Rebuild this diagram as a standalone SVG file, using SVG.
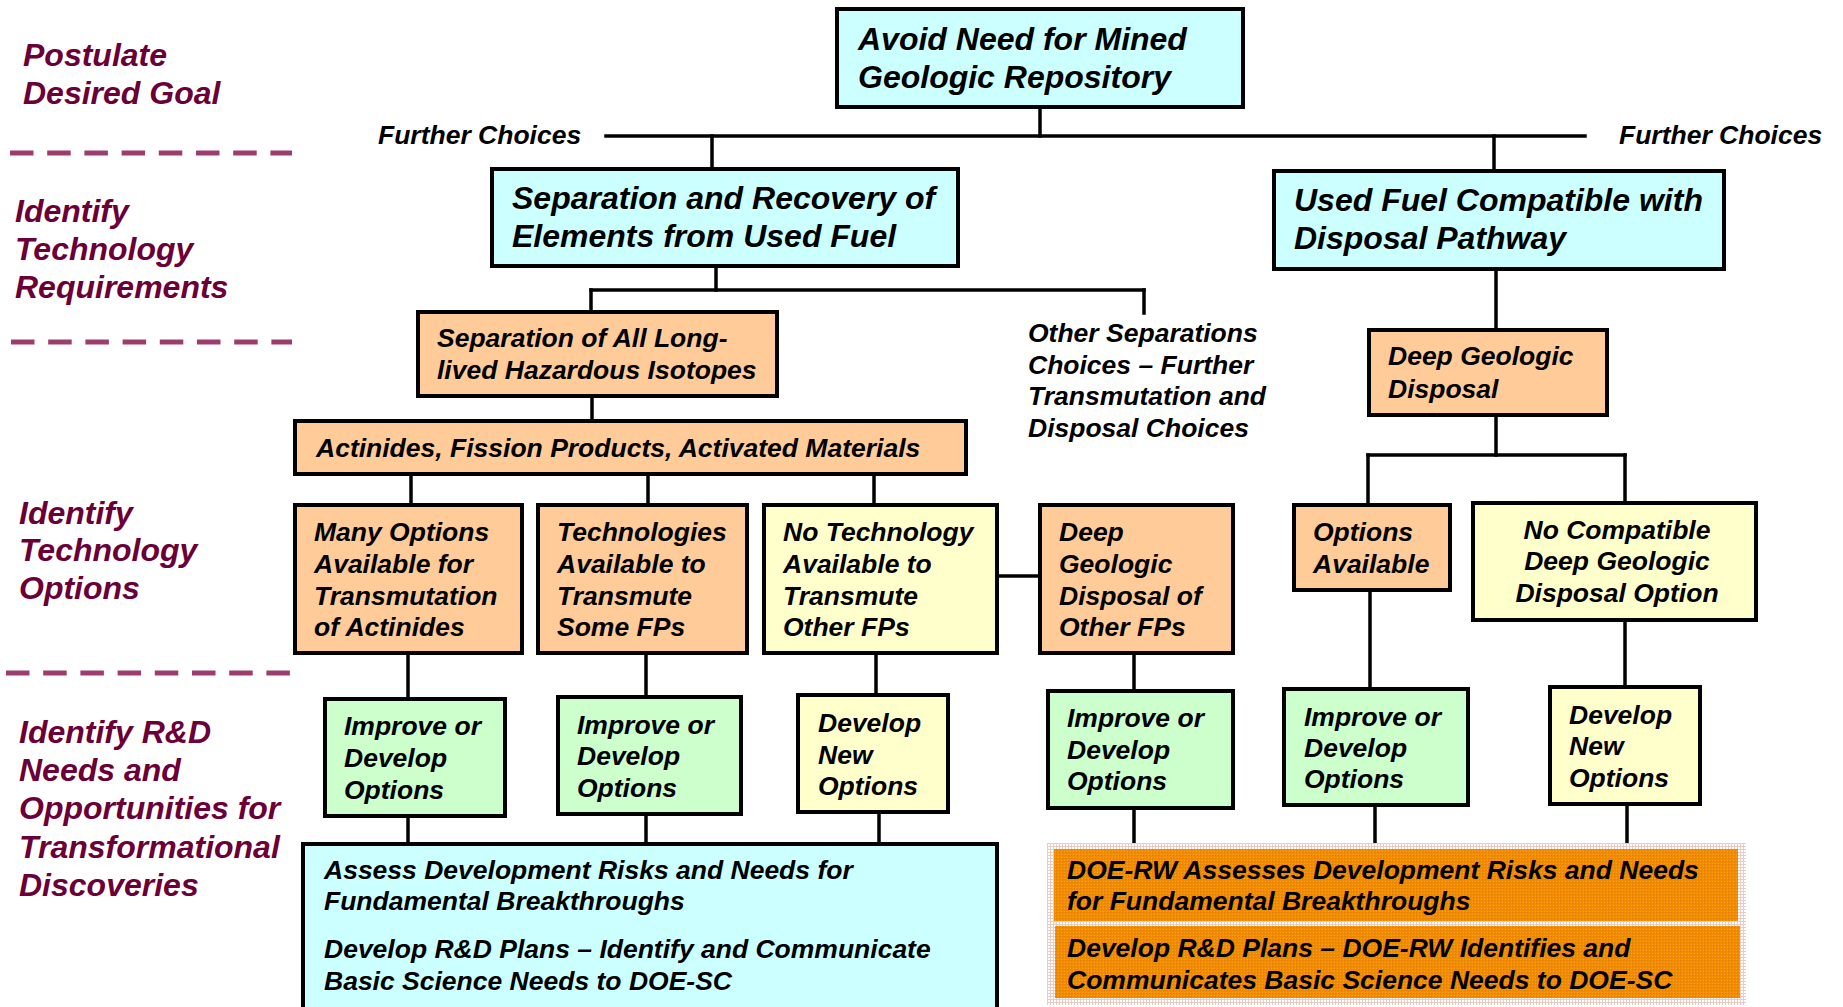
<svg xmlns="http://www.w3.org/2000/svg" width="1843" height="1007" viewBox="0 0 1843 1007">
  <style>
    text { font-family: "Liberation Sans", Arial, sans-serif; font-weight: bold; font-style: italic; fill: #000; transform: translateY(1.5px); }
    .lbl { font-size: 32px; fill: #6B0038; }
    .big { font-size: 32px; }
    .sm { font-size: 26.5px; }
    .box { stroke: #000; stroke-width: 4; }
    .cyan { fill: #CCFFFF; }
    .peach { fill: #FFCC99; }
    .yel { fill: #FFFFCC; }
    .grn { fill: #CCFFCC; }
    .conn line { stroke: #000; stroke-width: 3.5; stroke-linecap: square; }
    .dash { stroke: #9E3C6E; stroke-width: 5; stroke-dasharray: 23.5 13.7; }
  </style>
  <defs>
    <pattern id="orangeWeave" width="3" height="3" patternUnits="userSpaceOnUse">
      <rect width="3" height="3" fill="#F18B00"/>
      <rect width="1" height="1" fill="#E27E06"/>
      <rect x="2" y="2" width="1" height="1" fill="#F7A030"/>
    </pattern>
    <pattern id="paleWeave" width="3" height="3" patternUnits="userSpaceOnUse">
      <rect width="3" height="3" fill="#FFFFFF"/>
      <rect width="3" height="1" fill="#E9CCC4"/>
      <rect width="1" height="3" fill="#E9CCC4"/>
    </pattern>
  </defs>

  <rect width="1843" height="1007" fill="#FFFFFF"/>

  <!-- stage labels down the left margin -->
  <g id="stage-labels">
    <text class="lbl" x="23" y="64">Postulate</text>
    <text class="lbl" x="23" y="102">Desired Goal</text>
    <text class="lbl" x="15" y="220">Identify</text>
    <text class="lbl" x="15" y="258">Technology</text>
    <text class="lbl" x="15" y="296">Requirements</text>
    <text class="lbl" x="19" y="522">Identify</text>
    <text class="lbl" x="19" y="559">Technology</text>
    <text class="lbl" x="19" y="597">Options</text>
    <text class="lbl" x="19" y="741">Identify R&amp;D</text>
    <text class="lbl" x="19" y="779">Needs and</text>
    <text class="lbl" x="19" y="817">Opportunities for</text>
    <text class="lbl" x="19" y="856">Transformational</text>
    <text class="lbl" x="19" y="894">Discoveries</text>
    <line class="dash" x1="10" y1="153" x2="292" y2="153"/>
    <line class="dash" x1="11" y1="342" x2="292" y2="342"/>
    <line class="dash" x1="6" y1="673" x2="290" y2="673"/>
  </g>

  <!-- connectors -->
  <g id="connectors" class="conn">
    <line x1="1040" y1="109" x2="1040" y2="136"/>
    <line x1="606" y1="136" x2="1585" y2="136"/>
    <line x1="712" y1="136" x2="712" y2="167"/>
    <line x1="1494" y1="136" x2="1494" y2="169"/>
    <line x1="716" y1="268" x2="716" y2="290"/>
    <line x1="591" y1="290" x2="1144" y2="290"/>
    <line x1="591" y1="290" x2="591" y2="310"/>
    <line x1="1144" y1="290" x2="1144" y2="313"/>
    <line x1="592" y1="398" x2="592" y2="419"/>
    <line x1="411" y1="476" x2="411" y2="503"/>
    <line x1="648" y1="476" x2="648" y2="503"/>
    <line x1="874" y1="476" x2="874" y2="503"/>
    <line x1="999" y1="576" x2="1038" y2="576"/>
    <line x1="1496" y1="271" x2="1496" y2="328"/>
    <line x1="1496" y1="417" x2="1496" y2="455"/>
    <line x1="1368" y1="455" x2="1625" y2="455"/>
    <line x1="1368" y1="455" x2="1368" y2="503"/>
    <line x1="1625" y1="455" x2="1625" y2="501"/>
    <line x1="408" y1="655" x2="408" y2="697"/>
    <line x1="408" y1="818" x2="408" y2="842"/>
    <line x1="646" y1="655" x2="646" y2="695"/>
    <line x1="646" y1="816" x2="646" y2="842"/>
    <line x1="876" y1="655" x2="876" y2="693"/>
    <line x1="879" y1="814" x2="879" y2="842"/>
    <line x1="1134" y1="655" x2="1134" y2="689"/>
    <line x1="1134" y1="810" x2="1134" y2="843"/>
    <line x1="1370" y1="592" x2="1370" y2="687"/>
    <line x1="1375" y1="807" x2="1375" y2="843"/>
    <line x1="1625" y1="622" x2="1625" y2="685"/>
    <line x1="1627" y1="806" x2="1627" y2="843"/>
  </g>

  <!-- side notes on the choice bar -->
  <g id="further-choices-left">
    <text class="sm" x="378" y="142">Further Choices</text>
  </g>
  <g id="further-choices-right">
    <text class="sm" x="1619" y="142">Further Choices</text>
  </g>
  <g id="other-separations">
    <text class="sm" x="1028" y="340">Other Separations</text>
    <text class="sm" x="1028" y="372">Choices – Further</text>
    <text class="sm" x="1028" y="403">Transmutation and</text>
    <text class="sm" x="1028" y="435">Disposal Choices</text>
  </g>

  <!-- goal -->
  <g id="goal">
    <rect class="box cyan" x="837" y="9" width="406" height="98"/>
    <text class="big" x="858" y="48">Avoid Need for Mined</text>
    <text class="big" x="858" y="86">Geologic Repository</text>
  </g>

  <!-- technology requirements -->
  <g id="separation-recovery">
    <rect class="box cyan" x="492" y="169" width="466" height="97"/>
    <text class="big" x="512" y="207">Separation and Recovery of</text>
    <text class="big" x="512" y="245">Elements from Used Fuel</text>
  </g>
  <g id="used-fuel-compatible">
    <rect class="box cyan" x="1274" y="171" width="450" height="98"/>
    <text class="big" x="1294" y="209">Used Fuel Compatible with</text>
    <text class="big" x="1294" y="247">Disposal Pathway</text>
  </g>
  <g id="separation-all">
    <rect class="box peach" x="418" y="312" width="359" height="84"/>
    <text class="sm" x="437" y="345">Separation of All Long-</text>
    <text class="sm" x="437" y="377">lived Hazardous Isotopes</text>
  </g>
  <g id="deep-geologic-disposal">
    <rect class="box peach" x="1369" y="330" width="238" height="85"/>
    <text class="sm" x="1388" y="363">Deep Geologic</text>
    <text class="sm" x="1388" y="396">Disposal</text>
  </g>
  <g id="actinides">
    <rect class="box peach" x="295" y="421" width="671" height="53"/>
    <text class="sm" x="316" y="455">Actinides, Fission Products, Activated Materials</text>
  </g>

  <!-- technology options -->
  <g id="many-options">
    <rect class="box peach" x="295" y="505" width="227" height="148"/>
    <text class="sm" x="314" y="539">Many Options</text>
    <text class="sm" x="314" y="571">Available for</text>
    <text class="sm" x="314" y="603">Transmutation</text>
    <text class="sm" x="314" y="634">of Actinides</text>
  </g>
  <g id="technologies-available">
    <rect class="box peach" x="538" y="505" width="209" height="148"/>
    <text class="sm" x="557" y="539">Technologies</text>
    <text class="sm" x="557" y="571">Available to</text>
    <text class="sm" x="557" y="603">Transmute</text>
    <text class="sm" x="557" y="634">Some FPs</text>
  </g>
  <g id="no-technology">
    <rect class="box yel" x="764" y="505" width="233" height="148"/>
    <text class="sm" x="783" y="539">No Technology</text>
    <text class="sm" x="783" y="571">Available to</text>
    <text class="sm" x="783" y="603">Transmute</text>
    <text class="sm" x="783" y="634">Other FPs</text>
  </g>
  <g id="deep-disposal-other-fps">
    <rect class="box peach" x="1040" y="505" width="193" height="148"/>
    <text class="sm" x="1059" y="539">Deep</text>
    <text class="sm" x="1059" y="571">Geologic</text>
    <text class="sm" x="1059" y="603">Disposal of</text>
    <text class="sm" x="1059" y="634">Other FPs</text>
  </g>
  <g id="options-available">
    <rect class="box peach" x="1294" y="505" width="156" height="85"/>
    <text class="sm" x="1313" y="539">Options</text>
    <text class="sm" x="1313" y="571">Available</text>
  </g>
  <g id="no-compatible">
    <rect class="box yel" x="1473" y="503" width="283" height="117"/>
    <text class="sm" x="1617" y="537" text-anchor="middle">No Compatible</text>
    <text class="sm" x="1617" y="568" text-anchor="middle">Deep Geologic</text>
    <text class="sm" x="1617" y="600" text-anchor="middle">Disposal Option</text>
  </g>

  <!-- R&D needs -->
  <g id="improve-1">
    <rect class="box grn" x="325" y="699" width="180" height="117"/>
    <text class="sm" x="344" y="733">Improve or</text>
    <text class="sm" x="344" y="765">Develop</text>
    <text class="sm" x="344" y="797">Options</text>
  </g>
  <g id="improve-2">
    <rect class="box grn" x="558" y="697" width="183" height="117"/>
    <text class="sm" x="577" y="732">Improve or</text>
    <text class="sm" x="577" y="763">Develop</text>
    <text class="sm" x="577" y="795">Options</text>
  </g>
  <g id="develop-new-1">
    <rect class="box yel" x="798" y="695" width="150" height="117"/>
    <text class="sm" x="818" y="730">Develop</text>
    <text class="sm" x="818" y="762">New</text>
    <text class="sm" x="818" y="793">Options</text>
  </g>
  <g id="improve-3">
    <rect class="box grn" x="1048" y="691" width="185" height="117"/>
    <text class="sm" x="1067" y="725">Improve or</text>
    <text class="sm" x="1067" y="757">Develop</text>
    <text class="sm" x="1067" y="788">Options</text>
  </g>
  <g id="improve-4">
    <rect class="box grn" x="1284" y="689" width="184" height="116"/>
    <text class="sm" x="1304" y="724">Improve or</text>
    <text class="sm" x="1304" y="755">Develop</text>
    <text class="sm" x="1304" y="786">Options</text>
  </g>
  <g id="develop-new-2">
    <rect class="box yel" x="1550" y="687" width="150" height="117"/>
    <text class="sm" x="1569" y="722">Develop</text>
    <text class="sm" x="1569" y="753">New</text>
    <text class="sm" x="1569" y="785">Options</text>
  </g>

  <!-- R&D planning -->
  <g id="assess-plans">
    <rect class="box cyan" x="303" y="844" width="694" height="175"/>
    <text class="sm" x="324" y="877">Assess Development Risks and Needs for</text>
    <text class="sm" x="324" y="908">Fundamental Breakthroughs</text>
    <text class="sm" x="324" y="956">Develop R&amp;D Plans – Identify and Communicate</text>
    <text class="sm" x="324" y="988">Basic Science Needs to DOE-SC</text>
  </g>
  <g id="doe-rw-plans">
    <rect x="1047" y="843" width="699" height="162" fill="url(#paleWeave)"/>
    <rect x="1054" y="849" width="684" height="72" fill="url(#orangeWeave)"/>
    <rect x="1055" y="926" width="685" height="72" fill="url(#orangeWeave)"/>
    <text class="sm" x="1067" y="877">DOE-RW Assesses Development Risks and Needs</text>
    <text class="sm" x="1067" y="908">for Fundamental Breakthroughs</text>
    <text class="sm" x="1067" y="955">Develop R&amp;D Plans – DOE-RW Identifies and</text>
    <text class="sm" x="1067" y="987">Communicates Basic Science Needs to DOE-SC</text>
  </g>
</svg>
